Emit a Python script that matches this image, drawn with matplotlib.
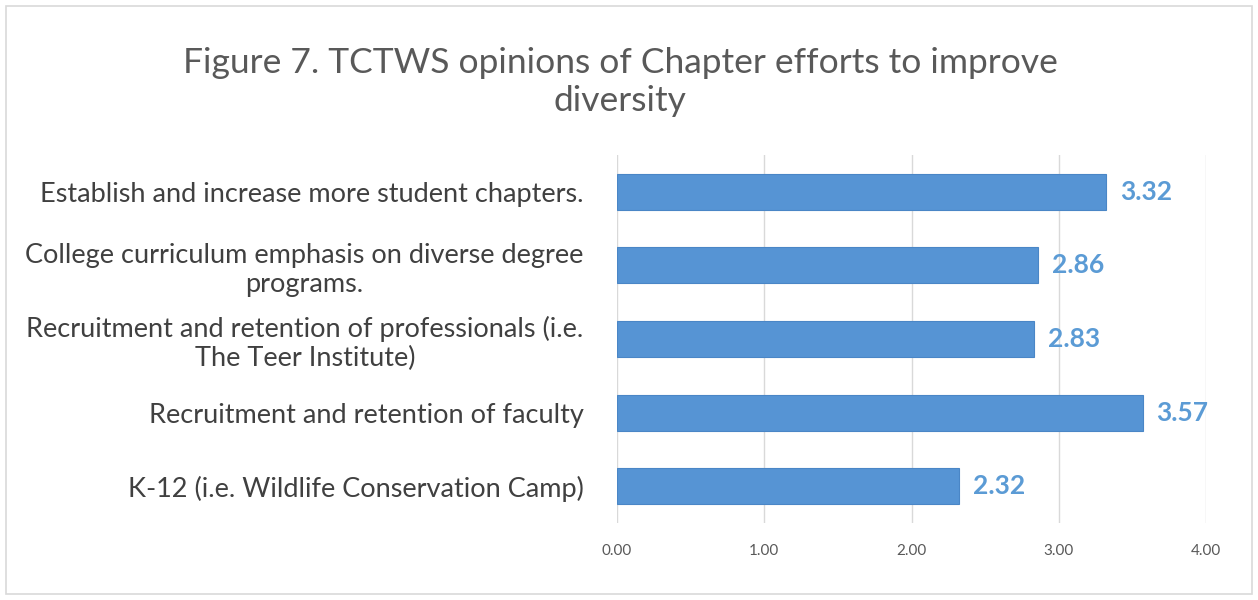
import matplotlib.pyplot as plt
from matplotlib.patches import Rectangle

categories = [
    "K-12 (i.e. Wildlife Conservation Camp)",
    "Recruitment and retention of faculty",
    "Recruitment and retention of professionals (i.e.\nThe Teer Institute)",
    "College curriculum emphasis on diverse degree\nprograms.",
    "Establish and increase more student chapters.",
]
scores = [2.32, 3.57, 2.83, 2.86, 3.32]
x_ticks = [0, 1, 2, 3, 4]
x_tick_labels = ["0.00", "1.00", "2.00", "3.00", "4.00"]

plt.rcParams['font.family'] = ['Lato', 'DejaVu Sans']

fig = plt.figure(figsize=(12.58, 6.0), dpi=100)
fig.patch.set_facecolor('white')

# thin frame around the chart area
fig.patches.append(Rectangle((6 / 1258, 6 / 600), 1246 / 1258, 588 / 600,
                             transform=fig.transFigure, fill=False,
                             edgecolor='#d9d9d9', linewidth=1.2))

ax = fig.add_axes([617 / 1258, 1 - 523 / 600, (1206 - 617) / 1258, (523 - 155) / 600])

bar_color = '#5694d4'
ypos = list(range(len(categories)))
ax.barh(ypos, scores, height=0.49, color=bar_color,
        edgecolor='#4a86c6', linewidth=0.8, zorder=3)

for y, v in zip(ypos, scores):
    ax.annotate(f"{v:.2f}", xy=(v, y), xytext=(10, 0), textcoords='offset points',
                va='center', ha='left', fontsize=19, fontweight='bold',
                color='#5b9bd5')

ax.set_xlim(0, 4)
ax.set_ylim(-0.5, len(categories) - 0.5)
ax.set_xticks(x_ticks)
ax.set_xticklabels(x_tick_labels, fontsize=11, color='#595959')
ax.set_yticks(ypos)
ax.set_yticklabels(categories, fontsize=19.5, color='#404040',
                   multialignment='center', linespacing=1.2)
ax.tick_params(axis='x', length=0, pad=15)
ax.tick_params(axis='y', length=0, pad=24)
ax.grid(axis='x', color='#d9d9d9', linewidth=1, zorder=0)
for s in ax.spines.values():
    s.set_visible(False)

fig.text(620 / 1258, 1 - 82 / 600,
         "Figure 7. TCTWS opinions of Chapter efforts to improve\ndiversity",
         ha='center', va='center', fontsize=25.5, color='#595959', linespacing=1.25)

fig.savefig('out.png', dpi=100)
